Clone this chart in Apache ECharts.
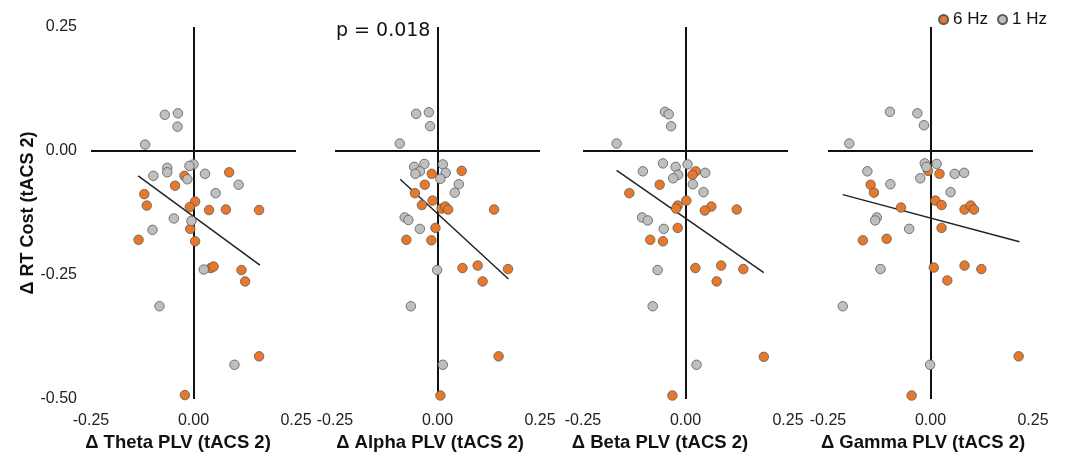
<!DOCTYPE html>
<html>
<head>
<meta charset="utf-8">
<script src="https://cdn.jsdelivr.net/npm/echarts@6/dist/echarts.min.js"></script>
<style>
html,body{margin:0;padding:0;background:#fff;}
#chart{width:1080px;height:458px;}
</style>
</head>
<body>
<div id="chart"></div>
<script>
// ---- data ----
const bands = ['Theta', 'Alpha', 'Beta', 'Gamma'];
const xTicks = [-0.25, 0, 0.25];
const yTicks = [-0.5, -0.25, 0, 0.25];
const pText = 'p = 0.018';

const theta6Hz = [[0.087,-0.043],[-0.022,-0.050],[-0.045,-0.070],[-0.120,-0.087],[-0.114,-0.110],[0.004,-0.102],[-0.009,-0.113],[0.038,-0.119],[0.079,-0.118],[0.160,-0.119],[-0.008,-0.157],[-0.134,-0.179],[0.004,-0.182],[0.042,-0.236],[0.049,-0.233],[0.117,-0.240],[0.126,-0.263],[0.160,-0.414],[-0.021,-0.492]];
const theta1Hz = [[-0.070,0.073],[-0.038,0.076],[-0.039,0.049],[-0.118,0.013],[0.000,-0.027],[-0.010,-0.030],[-0.064,-0.034],[-0.064,-0.043],[-0.098,-0.050],[-0.015,-0.057],[0.028,-0.046],[0.110,-0.068],[0.054,-0.085],[-0.048,-0.136],[-0.005,-0.141],[-0.100,-0.159],[0.025,-0.239],[-0.083,-0.313],[0.100,-0.431]];
const thetaFit = [[-0.135,-0.050],[0.162,-0.230]];

const alpha6Hz = [[0.059,-0.040],[-0.014,-0.046],[-0.031,-0.068],[-0.055,-0.085],[-0.012,-0.100],[-0.038,-0.109],[0.010,-0.116],[0.019,-0.112],[0.026,-0.118],[0.138,-0.118],[-0.005,-0.155],[-0.076,-0.179],[-0.015,-0.180],[0.061,-0.236],[0.098,-0.231],[0.172,-0.238],[0.110,-0.263],[0.149,-0.414],[0.007,-0.493]];
const alpha1Hz = [[-0.052,0.075],[-0.021,0.078],[-0.018,0.050],[-0.092,0.015],[-0.032,-0.026],[0.013,-0.027],[-0.057,-0.032],[-0.043,-0.041],[-0.054,-0.046],[0.020,-0.044],[0.007,-0.056],[0.052,-0.067],[0.042,-0.084],[-0.080,-0.134],[-0.071,-0.139],[-0.043,-0.157],[-0.001,-0.240],[-0.065,-0.313],[0.013,-0.431]];
const alphaFit = [[-0.091,-0.057],[0.173,-0.258]];

const beta6Hz = [[0.025,-0.041],[0.017,-0.048],[-0.063,-0.068],[-0.137,-0.085],[0.002,-0.100],[-0.019,-0.110],[-0.023,-0.116],[0.063,-0.112],[0.047,-0.120],[0.125,-0.118],[-0.019,-0.155],[-0.086,-0.179],[-0.055,-0.182],[0.024,-0.236],[0.087,-0.231],[0.141,-0.238],[0.076,-0.263],[0.191,-0.415],[-0.032,-0.493]];
const beta1Hz = [[-0.050,0.079],[-0.041,0.074],[-0.035,0.050],[-0.168,0.015],[-0.055,-0.025],[0.005,-0.027],[-0.024,-0.032],[-0.104,-0.041],[-0.018,-0.048],[0.048,-0.044],[-0.030,-0.055],[0.018,-0.067],[0.044,-0.083],[-0.106,-0.134],[-0.092,-0.140],[-0.053,-0.157],[-0.068,-0.240],[-0.080,-0.313],[0.027,-0.431]];
const betaFit = [[-0.168,-0.039],[0.191,-0.245]];

const gamma6Hz = [[-0.006,-0.040],[0.022,-0.046],[-0.146,-0.068],[-0.138,-0.084],[0.012,-0.100],[0.027,-0.109],[-0.072,-0.114],[0.083,-0.118],[0.098,-0.110],[0.106,-0.118],[0.027,-0.155],[-0.165,-0.180],[-0.107,-0.177],[0.008,-0.235],[0.083,-0.231],[0.124,-0.238],[0.041,-0.261],[0.215,-0.414],[-0.046,-0.493]];
const gamma1Hz = [[-0.099,0.079],[-0.032,0.076],[-0.016,0.052],[-0.198,0.015],[-0.014,-0.025],[0.015,-0.026],[-0.010,-0.032],[-0.154,-0.041],[0.059,-0.046],[0.082,-0.044],[-0.025,-0.055],[-0.098,-0.067],[0.049,-0.083],[-0.131,-0.134],[-0.135,-0.140],[-0.052,-0.157],[-0.122,-0.238],[-0.214,-0.313],[-0.001,-0.431]];
const gammaFit = [[-0.214,-0.088],[0.217,-0.183]];

const sixHz = [theta6Hz, alpha6Hz, beta6Hz, gamma6Hz];
const oneHz = [theta1Hz, alpha1Hz, beta1Hz, gamma1Hz];
const fits = [thetaFit, alphaFit, betaFit, gammaFit];

// ---- layout / style ----
const ORANGE = '#E8792B';
const GRAY = '#BFBFBF';
const gridLefts = [91, 335, 583, 828];
const gridW = 205;
const gridTop = 27;
const gridH = 372;
const titleCenters = [178, 430, 660, 923];
const FONT = '"Liberation Sans", Arial, sans-serif';

const grids = [], xAxes = [], yAxes = [], series = [], graphics = [];
bands.forEach((b, i) => {
  grids.push({left: gridLefts[i], top: gridTop, width: gridW, height: gridH});
  xAxes.push({
    type: 'value', gridIndex: i, min: xTicks[0], max: xTicks[xTicks.length-1], interval: 0.25,
    axisLine: {show: false}, axisTick: {show: false}, splitLine: {show: false},
    axisLabel: {margin: 14, fontSize: 16, color: '#222', fontFamily: FONT,
      formatter: v => v.toFixed(2)}
  });
  yAxes.push({
    type: 'value', gridIndex: i, min: yTicks[0], max: yTicks[yTicks.length-1], interval: 0.25,
    axisLine: {show: false}, axisTick: {show: false}, splitLine: {show: false},
    axisLabel: {show: i === 0, margin: 14, fontSize: 16, color: '#222', fontFamily: FONT,
      formatter: v => v.toFixed(2)},
    name: i === 0 ? 'Δ RT Cost (tACS 2)' : '',
    nameLocation: 'middle', nameGap: 54,
    nameTextStyle: {fontSize: 18, fontWeight: 'bold', color: '#111', fontFamily: FONT}
  });
  // cross lines at zero + regression line
  series.push({
    type: 'line', xAxisIndex: i, yAxisIndex: i, data: fits[i],
    showSymbol: false, symbol: 'none', silent: true, z: 3,
    lineStyle: {color: '#222', width: 1.5},
    markLine: {
      silent: true, symbol: 'none', label: {show: false},
      lineStyle: {color: '#111', width: 2, type: 'solid'},
      data: [{xAxis: 0}, {yAxis: 0}], z: 1
    }
  });
  series.push({
    name: '6 Hz', type: 'scatter', xAxisIndex: i, yAxisIndex: i, data: sixHz[i],
    symbolSize: 9.5, z: 4,
    itemStyle: {color: ORANGE, borderColor: '#5a5a5a', borderWidth: 0.8, opacity: 1}
  });
  series.push({
    name: '1 Hz', type: 'scatter', xAxisIndex: i, yAxisIndex: i, data: oneHz[i],
    symbolSize: 9.5, z: 5,
    itemStyle: {color: GRAY, borderColor: '#5a5a5a', borderWidth: 0.8, opacity: 1}
  });
  graphics.push({
    type: 'text', x: titleCenters[i], y: 433,
    style: {text: 'Δ ' + b + ' PLV (tACS 2)', textAlign: 'center', textVerticalAlign: 'top',
      font: 'bold 18.5px ' + FONT, fill: '#111'}
  });
});

graphics.push({
  type: 'text', x: 336, y: 22,
  style: {text: pText, font: '19px "DejaVu Sans", sans-serif', fill: '#111', textVerticalAlign: 'top'}
});

const chart = echarts.init(document.getElementById('chart'), null, {renderer: 'canvas'});
chart.setOption({
  animation: false,
  backgroundColor: '#fff',
  grid: grids,
  xAxis: xAxes,
  yAxis: yAxes,
  series: series,
  graphic: graphics,
  legend: {
    data: ['6 Hz', '1 Hz'], right: 28, top: 6, icon: 'circle',
    itemWidth: 9, itemHeight: 9, itemGap: 9,
    textStyle: {fontSize: 17, color: '#111', fontFamily: FONT}
  }
});
</script>
</body>
</html>
